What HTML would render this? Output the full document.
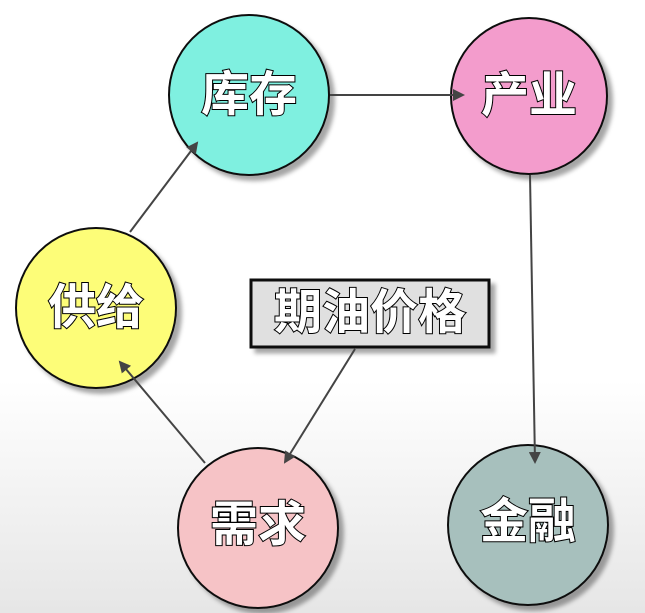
<!DOCTYPE html>
<html><head><style>
body{margin:0;width:645px;height:613px;overflow:hidden;background:linear-gradient(#fff 0,#fff 380px,#e6e6e6 613px);font-family:"Liberation Sans","Noto Sans CJK SC",sans-serif;}
svg{position:absolute;left:0;top:0}
text{font-family:"Liberation Sans","Noto Sans CJK SC",sans-serif;font-weight:bold;font-size:48px;fill:#fff;stroke:#000;stroke-width:2px;paint-order:stroke;text-anchor:middle;dominant-baseline:central}
</style></head><body>
<svg width="645" height="613">
<defs>
<marker id="a" markerWidth="12" markerHeight="12" refX="10" refY="6" orient="auto" markerUnits="userSpaceOnUse"><path d="M0,0 L12,6 L0,12 z" fill="#444"/></marker>
<filter id="s"><feDropShadow dx="5" dy="5" stdDeviation="2" flood-color="#000" flood-opacity="0.35"/></filter>
</defs>
<g stroke="#111" stroke-width="2" filter="url(#s)">
<circle cx="249" cy="95" r="80" fill="#7ff0e0"/>
<circle cx="529" cy="96" r="78" fill="#f39ccc"/>
<circle cx="96" cy="308" r="80" fill="#fdfd78"/>
<circle cx="258" cy="528" r="80" fill="#f6c3c6"/>
<circle cx="528" cy="525" r="80" fill="#a7c0bd"/>
<rect x="251" y="280" width="238" height="67" fill="#e0e0e0" stroke-width="3"/>
</g>
<g stroke="#444" stroke-width="2" fill="none" marker-end="url(#a)">
<line x1="330" y1="95" x2="463" y2="95"/>
<line x1="530" y1="175" x2="535" y2="462"/>
<line x1="355" y1="349" x2="285" y2="462"/>
<line x1="205" y1="463" x2="120" y2="362"/>
<line x1="130" y1="232" x2="197" y2="143"/>
</g>
<text x="249" y="95">库存</text>
<text x="529" y="96">产业</text>
<text x="96" y="308">供给</text>
<text x="258" y="525">需求</text>
<text x="528" y="522">金融</text>
<text x="370" y="313">期油价格</text>
</svg>
</body></html>
